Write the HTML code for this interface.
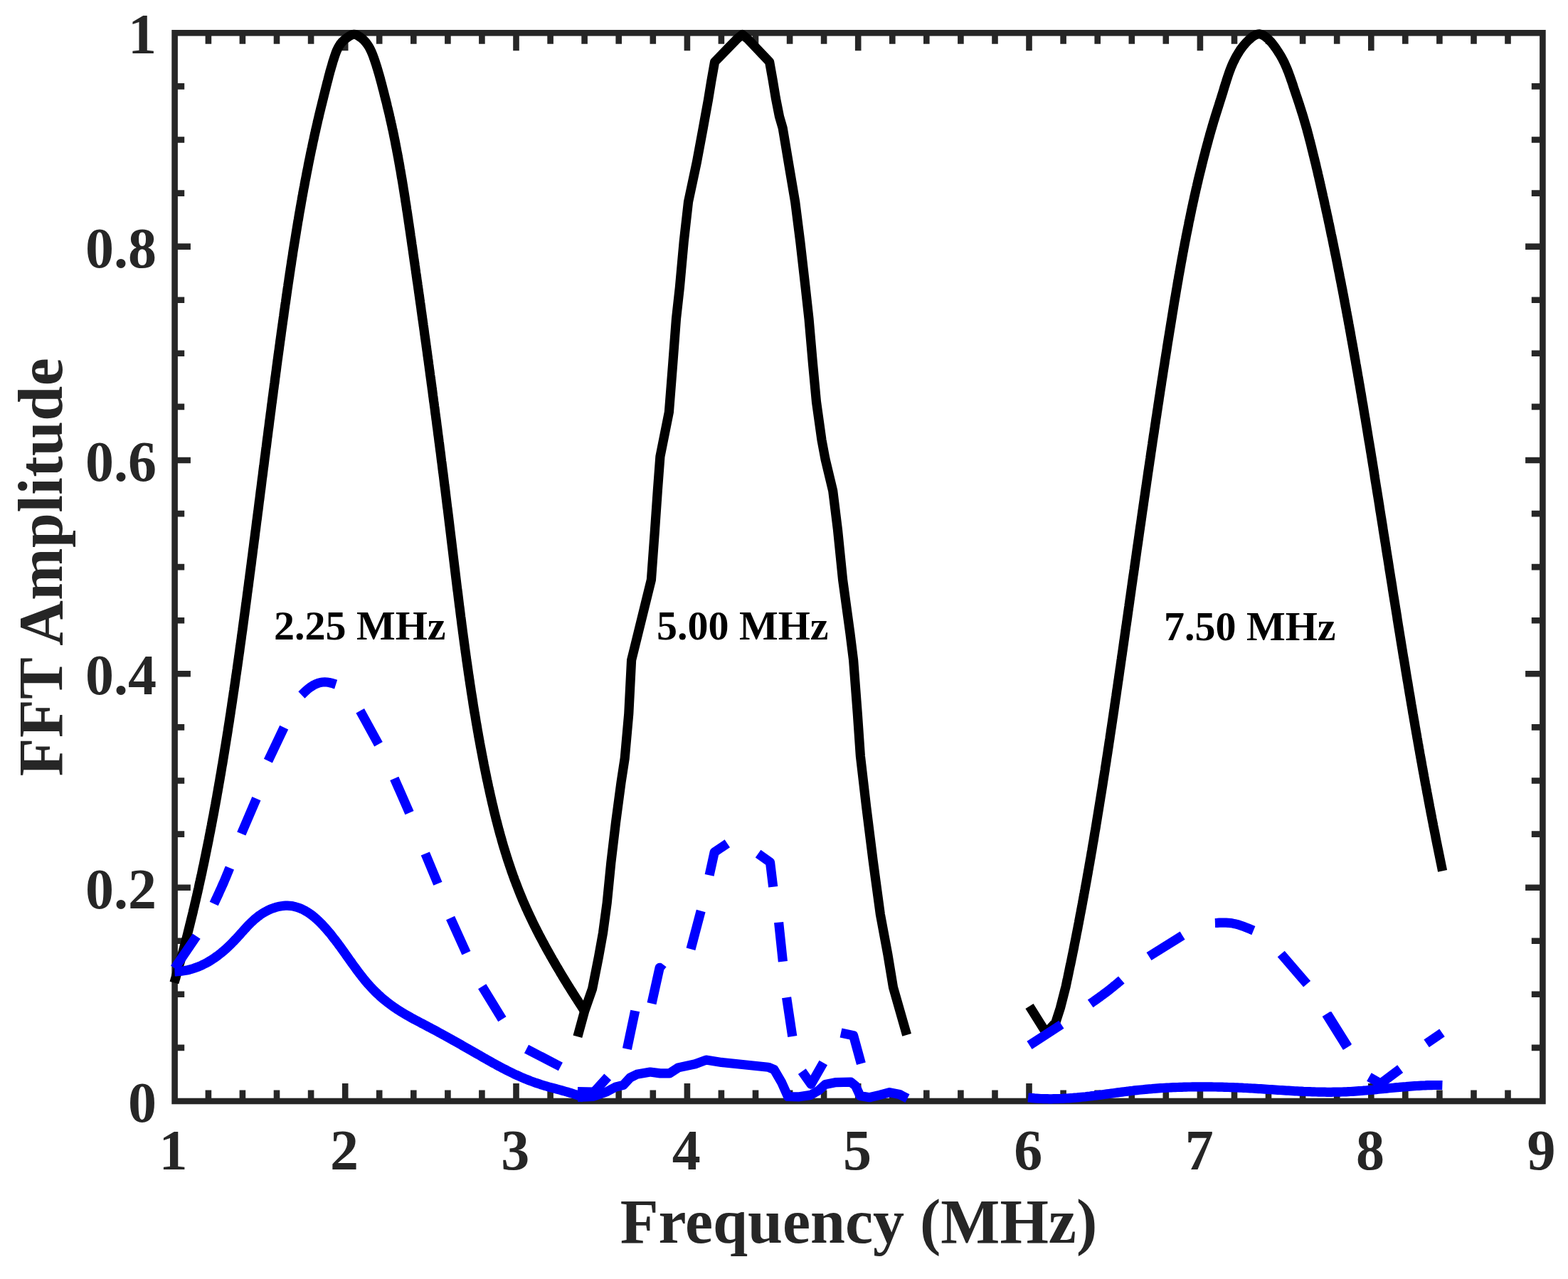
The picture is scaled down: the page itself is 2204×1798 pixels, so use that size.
<!DOCTYPE html>
<html lang="en">
<head>
<meta charset="utf-8">
<title>FFT Amplitude vs Frequency</title>
<style>
html,body{margin:0;padding:0;background:#fff;}
body{width:2204px;height:1798px;overflow:hidden;}
svg{display:block;}
text{font-family:"Liberation Serif","DejaVu Serif",serif;font-weight:bold;}
.tick{font-size:80px;fill:#262626;}
.lab{font-size:88px;fill:#262626;}
.ann{font-size:58px;fill:#000;}
.ax{stroke:#262626;fill:none;}
.blk{stroke:#000;fill:none;stroke-width:13.2;stroke-linejoin:round;stroke-linecap:butt;}
.blu{stroke:#0000ff;fill:none;stroke-width:13.2;stroke-linejoin:round;stroke-linecap:butt;}
</style>
</head>
<body>
<svg xmlns="http://www.w3.org/2000/svg" width="2204" height="1798" viewBox="0 0 2204 1798">
<rect x="0" y="0" width="2204" height="1798" fill="#fff"/>

<g class="ax" stroke-width="8.6">
<rect x="245.6" y="46.3" width="1922.8" height="1501.7"/>
</g>
<path class="ax" stroke-width="8.6" d="M292.9,1548.0 v-15.5 M292.9,46.3 v15.5 M340.9,1548.0 v-15.5 M340.9,46.3 v15.5 M389.0,1548.0 v-15.5 M389.0,46.3 v15.5 M437.1,1548.0 v-15.5 M437.1,46.3 v15.5 M485.2,1548.0 v-25.0 M485.2,46.3 v25.0 M533.2,1548.0 v-15.5 M533.2,46.3 v15.5 M581.3,1548.0 v-15.5 M581.3,46.3 v15.5 M629.4,1548.0 v-15.5 M629.4,46.3 v15.5 M677.4,1548.0 v-15.5 M677.4,46.3 v15.5 M725.5,1548.0 v-25.0 M725.5,46.3 v25.0 M773.6,1548.0 v-15.5 M773.6,46.3 v15.5 M821.6,1548.0 v-15.5 M821.6,46.3 v15.5 M869.7,1548.0 v-15.5 M869.7,46.3 v15.5 M917.8,1548.0 v-15.5 M917.8,46.3 v15.5 M965.9,1548.0 v-25.0 M965.9,46.3 v25.0 M1013.9,1548.0 v-15.5 M1013.9,46.3 v15.5 M1062.0,1548.0 v-15.5 M1062.0,46.3 v15.5 M1110.1,1548.0 v-15.5 M1110.1,46.3 v15.5 M1158.1,1548.0 v-15.5 M1158.1,46.3 v15.5 M1206.2,1548.0 v-25.0 M1206.2,46.3 v25.0 M1254.3,1548.0 v-15.5 M1254.3,46.3 v15.5 M1302.3,1548.0 v-15.5 M1302.3,46.3 v15.5 M1350.4,1548.0 v-15.5 M1350.4,46.3 v15.5 M1398.5,1548.0 v-15.5 M1398.5,46.3 v15.5 M1446.5,1548.0 v-25.0 M1446.5,46.3 v25.0 M1494.6,1548.0 v-15.5 M1494.6,46.3 v15.5 M1542.7,1548.0 v-15.5 M1542.7,46.3 v15.5 M1590.8,1548.0 v-15.5 M1590.8,46.3 v15.5 M1638.8,1548.0 v-15.5 M1638.8,46.3 v15.5 M1686.9,1548.0 v-25.0 M1686.9,46.3 v25.0 M1735.0,1548.0 v-15.5 M1735.0,46.3 v15.5 M1783.0,1548.0 v-15.5 M1783.0,46.3 v15.5 M1831.1,1548.0 v-15.5 M1831.1,46.3 v15.5 M1879.2,1548.0 v-15.5 M1879.2,46.3 v15.5 M1927.3,1548.0 v-25.0 M1927.3,46.3 v25.0 M1975.3,1548.0 v-15.5 M1975.3,46.3 v15.5 M2023.4,1548.0 v-15.5 M2023.4,46.3 v15.5 M2071.5,1548.0 v-15.5 M2071.5,46.3 v15.5 M2119.5,1548.0 v-15.5 M2119.5,46.3 v15.5 M245.6,1472.9 h13.6 M2168.4,1472.9 h-15.6 M245.6,1397.8 h13.6 M2168.4,1397.8 h-15.6 M245.6,1322.7 h13.6 M2168.4,1322.7 h-15.6 M245.6,1247.7 h22.3 M2168.4,1247.7 h-24.3 M245.6,1172.6 h13.6 M2168.4,1172.6 h-15.6 M245.6,1097.5 h13.6 M2168.4,1097.5 h-15.6 M245.6,1022.4 h13.6 M2168.4,1022.4 h-15.6 M245.6,947.3 h22.3 M2168.4,947.3 h-24.3 M245.6,872.2 h13.6 M2168.4,872.2 h-15.6 M245.6,797.1 h13.6 M2168.4,797.1 h-15.6 M245.6,722.1 h13.6 M2168.4,722.1 h-15.6 M245.6,647.0 h22.3 M2168.4,647.0 h-24.3 M245.6,571.9 h13.6 M2168.4,571.9 h-15.6 M245.6,496.8 h13.6 M2168.4,496.8 h-15.6 M245.6,421.7 h13.6 M2168.4,421.7 h-15.6 M245.6,346.6 h22.3 M2168.4,346.6 h-24.3 M245.6,271.6 h13.6 M2168.4,271.6 h-15.6 M245.6,196.5 h13.6 M2168.4,196.5 h-15.6 M245.6,121.4 h13.6 M2168.4,121.4 h-15.6"/>
<g id="curves">
<path class="blk" d="M244.9,1381.5 L245.6,1379.1 L246.3,1376.7 L247.0,1374.3 L247.6,1371.9 L248.3,1369.5 L249.0,1367.1 L249.7,1364.7 L250.4,1362.3 L251.1,1359.9 L251.7,1357.4 L252.4,1355.0 L253.1,1352.6 L253.8,1350.2 L254.4,1347.8 L255.1,1345.4 L255.7,1343.0 L256.4,1340.6 L257.1,1338.2 L257.7,1335.7 L258.4,1333.3 L259.0,1330.9 L259.6,1328.5 L260.3,1326.1 L260.9,1323.6 L261.5,1321.2 L262.2,1318.8 L262.8,1316.4 L263.4,1314.0 L264.0,1311.5 L264.6,1309.1 L265.2,1306.7 L265.8,1304.2 L266.4,1301.8 L267.0,1299.4 L267.6,1297.0 L268.2,1294.5 L268.8,1292.1 L269.4,1289.7 L270.0,1287.2 L270.6,1284.8 L271.2,1282.4 L271.7,1279.9 L272.3,1277.5 L272.9,1275.1 L273.5,1272.6 L274.0,1270.2 L274.6,1267.8 L275.2,1265.3 L275.7,1262.9 L276.3,1260.5 L276.9,1258.0 L277.4,1255.6 L278.0,1253.1 L278.5,1250.7 L279.1,1248.3 L279.6,1245.8 L280.1,1243.4 L280.7,1240.9 L281.2,1238.5 L281.8,1236.0 L282.3,1233.6 L282.8,1231.2 L283.4,1228.7 L283.9,1226.3 L284.4,1223.8 L284.9,1221.4 L285.4,1218.9 L286.0,1216.5 L286.5,1214.0 L287.0,1211.6 L287.5,1209.1 L288.0,1206.7 L288.5,1204.2 L289.0,1201.8 L289.5,1199.3 L290.0,1196.9 L290.5,1194.4 L291.0,1192.0 L291.5,1189.5 L292.0,1187.1 L292.5,1184.6 L293.0,1182.2 L293.5,1179.7 L293.9,1177.3 L294.4,1174.8 L294.9,1172.3 L295.4,1169.9 L295.9,1167.4 L296.3,1165.0 L296.8,1162.5 L297.3,1160.1 L297.7,1157.6 L298.2,1155.1 L298.7,1152.7 L299.1,1150.2 L299.6,1147.8 L300.1,1145.3 L300.5,1142.9 L301.0,1140.4 L301.4,1137.9 L301.9,1135.5 L302.3,1133.0 L302.8,1130.6 L303.2,1128.1 L303.7,1125.6 L304.1,1123.2 L304.6,1120.7 L305.0,1118.2 L305.4,1115.8 L305.9,1113.3 L306.3,1110.9 L306.7,1108.4 L307.2,1105.9 L307.6,1103.5 L308.0,1101.0 L308.5,1098.5 L308.9,1096.1 L309.3,1093.6 L309.7,1091.1 L310.2,1088.7 L310.6,1086.2 L311.0,1083.7 L311.4,1081.3 L311.8,1078.8 L312.2,1076.3 L312.7,1073.9 L313.1,1071.4 L313.5,1068.9 L313.9,1066.5 L314.3,1064.0 L314.7,1061.5 L315.1,1059.1 L315.5,1056.6 L315.9,1054.1 L316.3,1051.7 L316.7,1049.2 L317.1,1046.7 L317.5,1044.3 L317.9,1041.8 L318.3,1039.3 L318.7,1036.8 L319.1,1034.4 L319.5,1031.9 L319.9,1029.4 L320.3,1027.0 L320.6,1024.5 L321.0,1022.0 L321.4,1019.5 L321.8,1017.1 L322.2,1014.6 L322.6,1012.1 L322.9,1009.7 L323.3,1007.2 L323.7,1004.7 L324.1,1002.2 L324.4,999.8 L324.8,997.3 L325.2,994.8 L325.6,992.3 L325.9,989.9 L326.3,987.4 L326.7,984.9 L327.0,982.4 L327.4,980.0 L327.8,977.5 L328.1,975.0 L328.5,972.5 L328.9,970.1 L329.2,967.6 L329.6,965.1 L330.0,962.6 L330.3,960.2 L330.7,957.7 L331.0,955.2 L331.4,952.7 L331.7,950.3 L332.1,947.8 L332.5,945.3 L332.8,942.8 L333.2,940.4 L333.5,937.9 L333.9,935.4 L334.2,932.9 L334.6,930.5 L334.9,928.0 L335.3,925.5 L335.6,923.0 L336.0,920.5 L336.3,918.1 L336.7,915.6 L337.0,913.1 L337.3,910.6 L337.7,908.2 L338.0,905.7 L338.4,903.2 L338.7,900.7 L339.1,898.2 L339.4,895.8 L339.7,893.3 L340.1,890.8 L340.4,888.3 L340.8,885.9 L341.1,883.4 L341.4,880.9 L341.8,878.4 L342.1,875.9 L342.4,873.5 L342.8,871.0 L343.1,868.5 L343.4,866.0 L343.8,863.5 L344.1,861.1 L344.4,858.6 L344.8,856.1 L345.1,853.6 L345.4,851.1 L345.8,848.7 L346.1,846.2 L346.4,843.7 L346.8,841.2 L347.1,838.8 L347.4,836.3 L347.7,833.8 L348.1,831.3 L348.4,828.8 L348.7,826.4 L349.1,823.9 L349.4,821.4 L349.7,818.9 L350.0,816.4 L350.4,814.0 L350.7,811.5 L351.0,809.0 L351.3,806.5 L351.7,804.0 L352.0,801.5 L352.3,799.1 L352.6,796.6 L353.0,794.1 L353.3,791.6 L353.6,789.1 L353.9,786.7 L354.2,784.2 L354.6,781.7 L354.9,779.2 L355.2,776.7 L355.5,774.3 L355.8,771.8 L356.2,769.3 L356.5,766.8 L356.8,764.3 L357.1,761.9 L357.4,759.4 L357.8,756.9 L358.1,754.4 L358.4,751.9 L358.7,749.5 L359.0,747.0 L359.4,744.5 L359.7,742.0 L360.0,739.5 L360.3,737.0 L360.6,734.6 L360.9,732.1 L361.3,729.6 L361.6,727.1 L361.9,724.6 L362.2,722.2 L362.5,719.7 L362.9,717.2 L363.2,714.7 L363.5,712.2 L363.8,709.8 L364.1,707.3 L364.4,704.8 L364.8,702.3 L365.1,699.8 L365.4,697.3 L365.7,694.9 L366.0,692.4 L366.3,689.9 L366.7,687.4 L367.0,684.9 L367.3,682.5 L367.6,680.0 L367.9,677.5 L368.2,675.0 L368.5,672.5 L368.9,670.0 L369.2,667.6 L369.5,665.1 L369.8,662.6 L370.1,660.1 L370.4,657.6 L370.8,655.2 L371.1,652.7 L371.4,650.2 L371.7,647.7 L372.0,645.2 L372.3,642.8 L372.7,640.3 L373.0,637.8 L373.3,635.3 L373.6,632.8 L373.9,630.3 L374.3,627.9 L374.6,625.4 L374.9,622.9 L375.2,620.4 L375.5,617.9 L375.8,615.5 L376.2,613.0 L376.5,610.5 L376.8,608.0 L377.1,605.5 L377.4,603.1 L377.8,600.6 L378.1,598.1 L378.4,595.6 L378.7,593.1 L379.0,590.6 L379.4,588.2 L379.7,585.7 L380.0,583.2 L380.3,580.7 L380.7,578.2 L381.0,575.8 L381.3,573.3 L381.6,570.8 L381.9,568.3 L382.3,565.8 L382.6,563.4 L382.9,560.9 L383.2,558.4 L383.6,555.9 L383.9,553.4 L384.2,551.0 L384.5,548.5 L384.9,546.0 L385.2,543.5 L385.5,541.0 L385.9,538.6 L386.2,536.1 L386.5,533.6 L386.8,531.1 L387.2,528.6 L387.5,526.2 L387.8,523.7 L388.2,521.2 L388.5,518.7 L388.8,516.2 L389.1,513.8 L389.5,511.3 L389.8,508.8 L390.1,506.3 L390.5,503.8 L390.8,501.4 L391.1,498.9 L391.5,496.4 L391.8,493.9 L392.2,491.5 L392.5,489.0 L392.8,486.5 L393.2,484.0 L393.5,481.5 L393.8,479.1 L394.2,476.6 L394.5,474.1 L394.9,471.6 L395.2,469.1 L395.5,466.7 L395.9,464.2 L396.2,461.7 L396.6,459.2 L396.9,456.8 L397.3,454.3 L397.6,451.8 L398.0,449.3 L398.3,446.8 L398.7,444.4 L399.0,441.9 L399.3,439.4 L399.7,436.9 L400.0,434.5 L400.4,432.0 L400.7,429.5 L401.1,427.0 L401.5,424.6 L401.8,422.1 L402.2,419.6 L402.5,417.1 L402.9,414.7 L403.2,412.2 L403.6,409.7 L403.9,407.2 L404.3,404.7 L404.7,402.3 L405.0,399.8 L405.4,397.3 L405.8,394.8 L406.1,392.4 L406.5,389.9 L406.9,387.4 L407.2,384.9 L407.6,382.5 L408.0,380.0 L408.3,377.5 L408.7,375.1 L409.1,372.6 L409.5,370.1 L409.8,367.6 L410.2,365.2 L410.6,362.7 L411.0,360.2 L411.4,357.7 L411.7,355.3 L412.1,352.8 L412.5,350.3 L412.9,347.9 L413.3,345.4 L413.7,342.9 L414.1,340.4 L414.5,338.0 L414.9,335.5 L415.3,333.0 L415.7,330.6 L416.1,328.1 L416.5,325.6 L416.9,323.2 L417.3,320.7 L417.7,318.2 L418.1,315.8 L418.5,313.3 L418.9,310.8 L419.4,308.4 L419.8,305.9 L420.2,303.4 L420.6,301.0 L421.0,298.5 L421.5,296.0 L421.9,293.6 L422.3,291.1 L422.8,288.6 L423.2,286.2 L423.6,283.7 L424.1,281.2 L424.5,278.8 L424.9,276.3 L425.4,273.9 L425.8,271.4 L426.3,268.9 L426.7,266.5 L427.2,264.0 L427.7,261.6 L428.1,259.1 L428.6,256.6 L429.0,254.2 L429.5,251.7 L430.0,249.3 L430.5,246.8 L430.9,244.4 L431.4,241.9 L431.9,239.4 L432.4,237.0 L432.9,234.5 L433.3,232.1 L433.8,229.6 L434.3,227.2 L434.8,224.7 L435.3,222.3 L435.8,219.8 L436.3,217.4 L436.8,214.9 L437.3,212.5 L437.8,210.0 L438.4,207.6 L438.9,205.1 L439.4,202.7 L439.9,200.2 L440.4,197.8 L441.0,195.4 L441.5,192.9 L442.0,190.5 L442.6,188.0 L443.1,185.6 L443.7,183.1 L444.2,180.7 L444.8,178.3 L445.3,175.8 L445.9,173.4 L446.4,170.9 L447.0,168.5 L447.6,166.1 L448.2,163.6 L448.7,161.2 L449.3,158.7 L449.9,156.3 L450.5,153.9 L451.1,151.4 L451.7,149.0 L452.3,146.6 L452.9,144.1 L453.5,141.7 L454.1,139.3 L454.7,136.9 L455.3,134.4 L455.9,132.0 L456.5,129.6 L457.1,127.2 L457.7,124.8 L458.3,122.4 L458.9,120.0 L459.5,117.6 L460.1,115.2 L460.8,112.7 L461.4,110.3 L462.0,107.9 L462.6,105.5 L463.3,103.1 L463.9,100.7 L464.6,98.3 L465.3,95.9 L466.0,93.5 L466.7,91.1 L467.4,88.6 L468.1,86.2 L468.9,83.8 L469.7,81.3 L470.5,78.9 L471.3,76.5 L472.2,74.0 L473.1,71.7 L474.2,69.4 L475.3,67.1 L476.5,65.0 L477.8,62.9 L479.2,60.9 L480.8,59.0 L482.5,57.3 L484.4,55.6 L486.3,54.1 L488.4,52.6 L490.6,51.1 L492.9,49.8 L495.2,48.7 L497.6,48.3 L499.9,48.6 L502.3,49.6 L504.5,51.0 L506.7,52.5 L508.7,54.0 L510.6,55.7 L512.3,57.4 L514.0,59.2 L515.5,61.2 L516.9,63.2 L518.3,65.3 L519.5,67.4 L520.6,69.7 L521.7,71.9 L522.7,74.3 L523.7,76.6 L524.6,79.0 L525.4,81.4 L526.3,83.8 L527.1,86.2 L527.9,88.6 L528.7,91.0 L529.4,93.4 L530.2,95.8 L530.9,98.2 L531.6,100.6 L532.3,103.0 L533.0,105.4 L533.7,107.8 L534.3,110.2 L535.0,112.6 L535.6,115.0 L536.3,117.4 L536.9,119.8 L537.5,122.2 L538.1,124.6 L538.8,127.0 L539.4,129.5 L540.0,131.9 L540.6,134.3 L541.2,136.7 L541.8,139.1 L542.5,141.6 L543.1,144.0 L543.7,146.4 L544.2,148.9 L544.8,151.3 L545.4,153.7 L546.0,156.2 L546.6,158.6 L547.2,161.0 L547.7,163.5 L548.3,165.9 L548.8,168.4 L549.4,170.8 L549.9,173.3 L550.5,175.7 L551.0,178.1 L551.5,180.6 L552.1,183.0 L552.6,185.5 L553.1,187.9 L553.6,190.4 L554.1,192.8 L554.6,195.3 L555.1,197.7 L555.6,200.2 L556.0,202.6 L556.5,205.1 L557.0,207.6 L557.5,210.0 L557.9,212.5 L558.4,214.9 L558.9,217.4 L559.3,219.8 L559.8,222.3 L560.2,224.8 L560.7,227.2 L561.1,229.7 L561.6,232.1 L562.0,234.6 L562.4,237.1 L562.9,239.5 L563.3,242.0 L563.7,244.5 L564.1,246.9 L564.5,249.4 L565.0,251.9 L565.4,254.3 L565.8,256.8 L566.2,259.3 L566.6,261.7 L567.0,264.2 L567.4,266.7 L567.8,269.1 L568.2,271.6 L568.6,274.1 L569.0,276.6 L569.4,279.0 L569.7,281.5 L570.1,284.0 L570.5,286.4 L570.9,288.9 L571.3,291.4 L571.6,293.9 L572.0,296.3 L572.4,298.8 L572.8,301.3 L573.1,303.8 L573.5,306.2 L573.9,308.7 L574.2,311.2 L574.6,313.7 L575.0,316.1 L575.3,318.6 L575.7,321.1 L576.1,323.6 L576.4,326.0 L576.8,328.5 L577.1,331.0 L577.5,333.5 L577.9,335.9 L578.2,338.4 L578.6,340.9 L578.9,343.4 L579.3,345.8 L579.7,348.3 L580.0,350.8 L580.4,353.3 L580.7,355.7 L581.1,358.2 L581.4,360.7 L581.8,363.2 L582.1,365.6 L582.5,368.1 L582.9,370.6 L583.2,373.1 L583.6,375.5 L583.9,378.0 L584.3,380.5 L584.6,383.0 L585.0,385.5 L585.3,387.9 L585.7,390.4 L586.0,392.9 L586.4,395.4 L586.8,397.8 L587.1,400.3 L587.5,402.8 L587.8,405.3 L588.2,407.7 L588.5,410.2 L588.9,412.7 L589.2,415.2 L589.6,417.6 L589.9,420.1 L590.3,422.6 L590.6,425.1 L591.0,427.6 L591.3,430.0 L591.7,432.5 L592.0,435.0 L592.3,437.5 L592.7,439.9 L593.0,442.4 L593.4,444.9 L593.7,447.4 L594.1,449.9 L594.4,452.3 L594.8,454.8 L595.1,457.3 L595.5,459.8 L595.8,462.2 L596.2,464.7 L596.5,467.2 L596.8,469.7 L597.2,472.2 L597.5,474.6 L597.9,477.1 L598.2,479.6 L598.6,482.1 L598.9,484.5 L599.2,487.0 L599.6,489.5 L599.9,492.0 L600.3,494.5 L600.6,496.9 L600.9,499.4 L601.3,501.9 L601.6,504.4 L602.0,506.8 L602.3,509.3 L602.6,511.8 L603.0,514.3 L603.3,516.8 L603.6,519.2 L604.0,521.7 L604.3,524.2 L604.6,526.7 L605.0,529.2 L605.3,531.6 L605.7,534.1 L606.0,536.6 L606.3,539.1 L606.7,541.6 L607.0,544.0 L607.3,546.5 L607.7,549.0 L608.0,551.5 L608.3,553.9 L608.6,556.4 L609.0,558.9 L609.3,561.4 L609.6,563.9 L610.0,566.3 L610.3,568.8 L610.6,571.3 L611.0,573.8 L611.3,576.3 L611.6,578.7 L611.9,581.2 L612.3,583.7 L612.6,586.2 L612.9,588.7 L613.3,591.1 L613.6,593.6 L613.9,596.1 L614.2,598.6 L614.6,601.1 L614.9,603.5 L615.2,606.0 L615.5,608.5 L615.8,611.0 L616.2,613.5 L616.5,615.9 L616.8,618.4 L617.1,620.9 L617.5,623.4 L617.8,625.9 L618.1,628.4 L618.4,630.8 L618.7,633.3 L619.1,635.8 L619.4,638.3 L619.7,640.8 L620.0,643.2 L620.3,645.7 L620.6,648.2 L621.0,650.7 L621.3,653.2 L621.6,655.6 L621.9,658.1 L622.2,660.6 L622.5,663.1 L622.9,665.6 L623.2,668.1 L623.5,670.5 L623.8,673.0 L624.1,675.5 L624.4,678.0 L624.7,680.5 L625.0,682.9 L625.4,685.4 L625.7,687.9 L626.0,690.4 L626.3,692.9 L626.6,695.4 L626.9,697.8 L627.2,700.3 L627.5,702.8 L627.8,705.3 L628.1,707.8 L628.4,710.3 L628.7,712.7 L629.1,715.2 L629.4,717.7 L629.7,720.2 L630.0,722.7 L630.3,725.1 L630.6,727.6 L630.9,730.1 L631.2,732.6 L631.5,735.1 L631.8,737.6 L632.1,740.0 L632.4,742.5 L632.7,745.0 L633.0,747.5 L633.3,750.0 L633.6,752.5 L633.9,754.9 L634.2,757.4 L634.5,759.9 L634.8,762.4 L635.1,764.9 L635.4,767.4 L635.7,769.8 L636.0,772.3 L636.3,774.8 L636.6,777.3 L636.9,779.8 L637.2,782.3 L637.5,784.7 L637.8,787.2 L638.1,789.7 L638.4,792.2 L638.7,794.7 L639.0,797.2 L639.3,799.6 L639.6,802.1 L639.9,804.6 L640.2,807.1 L640.5,809.6 L640.8,812.1 L641.1,814.5 L641.4,817.0 L641.7,819.5 L642.0,822.0 L642.3,824.5 L642.6,827.0 L642.9,829.4 L643.3,831.9 L643.6,834.4 L643.9,836.9 L644.2,839.4 L644.5,841.9 L644.8,844.3 L645.1,846.8 L645.4,849.3 L645.7,851.8 L646.1,854.3 L646.4,856.7 L646.7,859.2 L647.0,861.7 L647.3,864.2 L647.6,866.7 L648.0,869.2 L648.3,871.6 L648.6,874.1 L648.9,876.6 L649.2,879.1 L649.6,881.6 L649.9,884.0 L650.2,886.5 L650.5,889.0 L650.9,891.5 L651.2,894.0 L651.5,896.4 L651.9,898.9 L652.2,901.4 L652.5,903.9 L652.9,906.4 L653.2,908.8 L653.5,911.3 L653.9,913.8 L654.2,916.3 L654.6,918.7 L654.9,921.2 L655.3,923.7 L655.6,926.2 L655.9,928.7 L656.3,931.1 L656.7,933.6 L657.0,936.1 L657.4,938.6 L657.7,941.0 L658.1,943.5 L658.4,946.0 L658.8,948.5 L659.2,950.9 L659.5,953.4 L659.9,955.9 L660.3,958.4 L660.6,960.8 L661.0,963.3 L661.4,965.8 L661.8,968.3 L662.1,970.7 L662.5,973.2 L662.9,975.7 L663.3,978.1 L663.7,980.6 L664.1,983.1 L664.5,985.6 L664.8,988.0 L665.2,990.5 L665.6,993.0 L666.0,995.4 L666.4,997.9 L666.8,1000.4 L667.2,1002.8 L667.7,1005.3 L668.1,1007.8 L668.5,1010.2 L668.9,1012.7 L669.3,1015.2 L669.7,1017.6 L670.2,1020.1 L670.6,1022.6 L671.0,1025.0 L671.4,1027.5 L671.9,1030.0 L672.3,1032.4 L672.7,1034.9 L673.2,1037.4 L673.6,1039.8 L674.1,1042.3 L674.5,1044.7 L675.0,1047.2 L675.4,1049.7 L675.9,1052.1 L676.4,1054.6 L676.8,1057.0 L677.3,1059.5 L677.8,1062.0 L678.2,1064.4 L678.7,1066.9 L679.2,1069.3 L679.7,1071.8 L680.1,1074.2 L680.6,1076.7 L681.1,1079.1 L681.6,1081.6 L682.1,1084.0 L682.6,1086.5 L683.1,1088.9 L683.6,1091.4 L684.1,1093.8 L684.6,1096.3 L685.2,1098.7 L685.7,1101.2 L686.2,1103.6 L686.7,1106.1 L687.3,1108.5 L687.8,1111.0 L688.3,1113.4 L688.9,1115.9 L689.4,1118.3 L690.0,1120.7 L690.5,1123.2 L691.1,1125.6 L691.6,1128.0 L692.2,1130.5 L692.8,1132.9 L693.4,1135.4 L693.9,1137.8 L694.5,1140.2 L695.1,1142.7 L695.7,1145.1 L696.3,1147.5 L696.9,1149.9 L697.5,1152.4 L698.2,1154.8 L698.8,1157.2 L699.4,1159.6 L700.0,1162.0 L700.7,1164.5 L701.3,1166.9 L702.0,1169.3 L702.6,1171.7 L703.3,1174.1 L704.0,1176.5 L704.7,1178.9 L705.3,1181.3 L706.0,1183.8 L706.7,1186.2 L707.4,1188.6 L708.1,1191.0 L708.9,1193.3 L709.6,1195.7 L710.3,1198.1 L711.1,1200.5 L711.8,1202.9 L712.6,1205.3 L713.3,1207.7 L714.1,1210.1 L714.9,1212.4 L715.7,1214.8 L716.5,1217.2 L717.3,1219.6 L718.1,1221.9 L718.9,1224.3 L719.7,1226.6 L720.6,1229.0 L721.4,1231.4 L722.3,1233.7 L723.1,1236.1 L724.0,1238.4 L724.9,1240.7 L725.8,1243.1 L726.7,1245.4 L727.6,1247.8 L728.5,1250.1 L729.4,1252.4 L730.3,1254.7 L731.3,1257.1 L732.2,1259.4 L733.2,1261.7 L734.1,1264.0 L735.1,1266.3 L736.1,1268.6 L737.1,1270.9 L738.1,1273.2 L739.1,1275.5 L740.1,1277.7 L741.2,1280.0 L742.2,1282.3 L743.3,1284.6 L744.3,1286.8 L745.4,1289.1 L746.5,1291.4 L747.5,1293.6 L748.6,1295.9 L749.7,1298.1 L750.8,1300.4 L751.9,1302.6 L753.1,1304.8 L754.2,1307.1 L755.3,1309.3 L756.5,1311.5 L757.6,1313.8 L758.8,1316.0 L759.9,1318.2 L761.1,1320.4 L762.3,1322.6 L763.5,1324.8 L764.6,1327.0 L765.8,1329.2 L767.0,1331.4 L768.2,1333.6 L769.5,1335.8 L770.7,1338.0 L771.9,1340.2 L773.1,1342.3 L774.3,1344.5 L775.6,1346.7 L776.8,1348.9 L778.1,1351.0 L779.3,1353.2 L780.6,1355.4 L781.8,1357.5 L783.1,1359.7 L784.4,1361.8 L785.7,1364.0 L786.9,1366.1 L788.2,1368.3 L789.5,1370.4 L790.8,1372.6 L792.1,1374.7 L793.4,1376.9 L794.7,1379.0 L796.0,1381.1 L797.3,1383.2 L798.6,1385.4 L800.0,1387.5 L801.3,1389.6 L802.6,1391.7 L804.0,1393.9 L805.3,1396.0 L806.6,1398.1 L808.0,1400.2 L809.3,1402.3 L810.7,1404.4 L812.0,1406.5 L813.4,1408.6 L814.7,1410.7 L816.1,1412.8 L817.4,1414.9 L818.8,1417.0 L820.1,1419.2 L821.5,1421.3"/>
<path class="blk" d="M811.9,1457.2 L821.8,1421.0 L832.6,1390.0 L841.5,1345.0 L847.5,1311.7 L853.2,1269.3 L858.8,1212.9 L865.5,1156.4 L873.0,1100.0 L878.2,1066.0 L883.8,1003.2 L887.6,928.0 L915.4,815.2 L920.5,745.0 L924.3,690.0 L927.9,641.8 L940.4,579.3 L945.7,511.4 L950.5,448.0 L955.4,403.7 L961.2,339.8 L967.5,283.9 L979.4,227.9 L988.3,180.0 L991.2,163.9 L995.5,140.4 L999.7,114.6 L1004.6,87.0 L1036.3,54.3 L1043.4,48.6 L1050.5,54.3 L1081.6,87.0 L1086.1,112.2 L1090.4,138.1 L1095.5,163.9 L1100.2,180.0 L1108.2,227.9 L1117.7,283.9 L1124.8,339.8 L1132.1,403.7 L1137.0,448.0 L1142.5,511.4 L1147.5,565.0 L1155.0,618.6 L1160.0,645.4 L1170.7,690.0 L1177.5,745.0 L1184.6,815.2 L1194.9,890.4 L1199.6,928.0 L1205.3,1003.2 L1209.4,1063.0 L1217.8,1135.2 L1227.2,1210.4 L1237.4,1285.6 L1247.9,1342.0 L1255.5,1388.0 L1274.6,1454.9"/>
<path class="blk" d="M1447.0,1414.6 L1470.5,1452.0 L1483.8,1437.5 L1490.4,1417.0 L1497.3,1390.0 L1498.0,1387.5 L1498.5,1385.0 L1499.0,1382.6 L1499.5,1380.1 L1500.0,1377.7 L1500.6,1375.3 L1501.1,1372.8 L1501.6,1370.4 L1502.1,1367.9 L1502.6,1365.5 L1503.1,1363.0 L1503.6,1360.6 L1504.1,1358.1 L1504.7,1355.7 L1505.2,1353.2 L1505.7,1350.8 L1506.2,1348.3 L1506.7,1345.9 L1507.2,1343.4 L1507.7,1341.0 L1508.2,1338.5 L1508.7,1336.1 L1509.2,1333.6 L1509.7,1331.1 L1510.1,1328.7 L1510.6,1326.2 L1511.1,1323.8 L1511.6,1321.3 L1512.1,1318.9 L1512.6,1316.4 L1513.0,1314.0 L1513.5,1311.5 L1514.0,1309.1 L1514.5,1306.6 L1515.0,1304.1 L1515.4,1301.7 L1515.9,1299.2 L1516.4,1296.8 L1516.8,1294.3 L1517.3,1291.9 L1517.8,1289.4 L1518.2,1286.9 L1518.7,1284.5 L1519.2,1282.0 L1519.6,1279.6 L1520.1,1277.1 L1520.6,1274.7 L1521.0,1272.2 L1521.5,1269.7 L1521.9,1267.3 L1522.4,1264.8 L1522.8,1262.4 L1523.3,1259.9 L1523.7,1257.4 L1524.2,1255.0 L1524.6,1252.5 L1525.1,1250.1 L1525.5,1247.6 L1526.0,1245.1 L1526.4,1242.7 L1526.9,1240.2 L1527.3,1237.7 L1527.8,1235.3 L1528.2,1232.8 L1528.6,1230.4 L1529.1,1227.9 L1529.5,1225.4 L1529.9,1223.0 L1530.4,1220.5 L1530.8,1218.0 L1531.2,1215.6 L1531.7,1213.1 L1532.1,1210.6 L1532.5,1208.2 L1533.0,1205.7 L1533.4,1203.2 L1533.8,1200.8 L1534.2,1198.3 L1534.7,1195.9 L1535.1,1193.4 L1535.5,1190.9 L1535.9,1188.5 L1536.3,1186.0 L1536.8,1183.5 L1537.2,1181.1 L1537.6,1178.6 L1538.0,1176.1 L1538.4,1173.7 L1538.8,1171.2 L1539.2,1168.7 L1539.7,1166.2 L1540.1,1163.8 L1540.5,1161.3 L1540.9,1158.8 L1541.3,1156.4 L1541.7,1153.9 L1542.1,1151.4 L1542.5,1149.0 L1542.9,1146.5 L1543.3,1144.0 L1543.7,1141.6 L1544.1,1139.1 L1544.5,1136.6 L1544.9,1134.2 L1545.3,1131.7 L1545.7,1129.2 L1546.1,1126.7 L1546.5,1124.3 L1546.9,1121.8 L1547.3,1119.3 L1547.7,1116.9 L1548.1,1114.4 L1548.5,1111.9 L1548.9,1109.5 L1549.3,1107.0 L1549.7,1104.5 L1550.1,1102.0 L1550.4,1099.6 L1550.8,1097.1 L1551.2,1094.6 L1551.6,1092.2 L1552.0,1089.7 L1552.4,1087.2 L1552.8,1084.7 L1553.2,1082.3 L1553.5,1079.8 L1553.9,1077.3 L1554.3,1074.9 L1554.7,1072.4 L1555.1,1069.9 L1555.4,1067.4 L1555.8,1065.0 L1556.2,1062.5 L1556.6,1060.0 L1557.0,1057.5 L1557.3,1055.1 L1557.7,1052.6 L1558.1,1050.1 L1558.5,1047.7 L1558.8,1045.2 L1559.2,1042.7 L1559.6,1040.2 L1560.0,1037.8 L1560.3,1035.3 L1560.7,1032.8 L1561.1,1030.3 L1561.4,1027.9 L1561.8,1025.4 L1562.2,1022.9 L1562.6,1020.4 L1562.9,1018.0 L1563.3,1015.5 L1563.7,1013.0 L1564.0,1010.5 L1564.4,1008.1 L1564.8,1005.6 L1565.1,1003.1 L1565.5,1000.6 L1565.9,998.2 L1566.2,995.7 L1566.6,993.2 L1566.9,990.7 L1567.3,988.3 L1567.7,985.8 L1568.0,983.3 L1568.4,980.8 L1568.8,978.4 L1569.1,975.9 L1569.5,973.4 L1569.8,970.9 L1570.2,968.5 L1570.6,966.0 L1570.9,963.5 L1571.3,961.0 L1571.6,958.6 L1572.0,956.1 L1572.4,953.6 L1572.7,951.1 L1573.1,948.7 L1573.4,946.2 L1573.8,943.7 L1574.1,941.2 L1574.5,938.8 L1574.9,936.3 L1575.2,933.8 L1575.6,931.3 L1575.9,928.8 L1576.3,926.4 L1576.6,923.9 L1577.0,921.4 L1577.4,918.9 L1577.7,916.5 L1578.1,914.0 L1578.4,911.5 L1578.8,909.0 L1579.1,906.6 L1579.5,904.1 L1579.8,901.6 L1580.2,899.1 L1580.5,896.7 L1580.9,894.2 L1581.2,891.7 L1581.6,889.2 L1581.9,886.7 L1582.3,884.3 L1582.6,881.8 L1583.0,879.3 L1583.4,876.8 L1583.7,874.4 L1584.1,871.9 L1584.4,869.4 L1584.8,866.9 L1585.1,864.5 L1585.5,862.0 L1585.8,859.5 L1586.2,857.0 L1586.5,854.5 L1586.9,852.1 L1587.2,849.6 L1587.6,847.1 L1587.9,844.6 L1588.3,842.2 L1588.6,839.7 L1589.0,837.2 L1589.3,834.7 L1589.7,832.3 L1590.0,829.8 L1590.4,827.3 L1590.7,824.8 L1591.1,822.3 L1591.4,819.9 L1591.8,817.4 L1592.1,814.9 L1592.5,812.4 L1592.8,810.0 L1593.2,807.5 L1593.6,805.0 L1593.9,802.5 L1594.3,800.1 L1594.6,797.6 L1595.0,795.1 L1595.3,792.6 L1595.7,790.1 L1596.0,787.7 L1596.4,785.2 L1596.7,782.7 L1597.1,780.2 L1597.4,777.8 L1597.8,775.3 L1598.1,772.8 L1598.5,770.3 L1598.8,767.9 L1599.2,765.4 L1599.6,762.9 L1599.9,760.4 L1600.3,758.0 L1600.6,755.5 L1601.0,753.0 L1601.3,750.5 L1601.7,748.0 L1602.0,745.6 L1602.4,743.1 L1602.7,740.6 L1603.1,738.1 L1603.5,735.7 L1603.8,733.2 L1604.2,730.7 L1604.5,728.2 L1604.9,725.8 L1605.2,723.3 L1605.6,720.8 L1605.9,718.3 L1606.3,715.9 L1606.7,713.4 L1607.0,710.9 L1607.4,708.4 L1607.7,706.0 L1608.1,703.5 L1608.4,701.0 L1608.8,698.5 L1609.2,696.0 L1609.5,693.6 L1609.9,691.1 L1610.2,688.6 L1610.6,686.1 L1611.0,683.7 L1611.3,681.2 L1611.7,678.7 L1612.0,676.2 L1612.4,673.8 L1612.8,671.3 L1613.1,668.8 L1613.5,666.3 L1613.8,663.9 L1614.2,661.4 L1614.6,658.9 L1614.9,656.4 L1615.3,654.0 L1615.7,651.5 L1616.0,649.0 L1616.4,646.5 L1616.8,644.1 L1617.1,641.6 L1617.5,639.1 L1617.8,636.6 L1618.2,634.2 L1618.6,631.7 L1618.9,629.2 L1619.3,626.7 L1619.7,624.3 L1620.0,621.8 L1620.4,619.3 L1620.8,616.8 L1621.1,614.4 L1621.5,611.9 L1621.9,609.4 L1622.3,606.9 L1622.6,604.5 L1623.0,602.0 L1623.4,599.5 L1623.7,597.0 L1624.1,594.6 L1624.5,592.1 L1624.8,589.6 L1625.2,587.2 L1625.6,584.7 L1626.0,582.2 L1626.3,579.7 L1626.7,577.3 L1627.1,574.8 L1627.5,572.3 L1627.8,569.8 L1628.2,567.4 L1628.6,564.9 L1629.0,562.4 L1629.3,559.9 L1629.7,557.5 L1630.1,555.0 L1630.5,552.5 L1630.8,550.1 L1631.2,547.6 L1631.6,545.1 L1632.0,542.6 L1632.4,540.2 L1632.7,537.7 L1633.1,535.2 L1633.5,532.7 L1633.9,530.3 L1634.3,527.8 L1634.7,525.3 L1635.0,522.9 L1635.4,520.4 L1635.8,517.9 L1636.2,515.4 L1636.6,513.0 L1637.0,510.5 L1637.3,508.0 L1637.7,505.5 L1638.1,503.1 L1638.5,500.6 L1638.9,498.1 L1639.3,495.7 L1639.7,493.2 L1640.1,490.7 L1640.4,488.2 L1640.8,485.8 L1641.2,483.3 L1641.6,480.8 L1642.0,478.4 L1642.4,475.9 L1642.8,473.4 L1643.2,471.0 L1643.6,468.5 L1644.0,466.0 L1644.4,463.5 L1644.8,461.1 L1645.2,458.6 L1645.6,456.1 L1646.0,453.7 L1646.4,451.2 L1646.8,448.7 L1647.2,446.3 L1647.6,443.8 L1648.0,441.3 L1648.4,438.8 L1648.8,436.4 L1649.2,433.9 L1649.6,431.4 L1650.0,429.0 L1650.4,426.5 L1650.8,424.0 L1651.2,421.6 L1651.6,419.1 L1652.1,416.6 L1652.5,414.2 L1652.9,411.7 L1653.3,409.2 L1653.7,406.8 L1654.2,404.3 L1654.6,401.8 L1655.0,399.4 L1655.4,396.9 L1655.9,394.4 L1656.3,392.0 L1656.7,389.5 L1657.1,387.0 L1657.6,384.6 L1658.0,382.1 L1658.5,379.7 L1658.9,377.2 L1659.3,374.7 L1659.8,372.3 L1660.2,369.8 L1660.7,367.3 L1661.1,364.9 L1661.6,362.4 L1662.0,360.0 L1662.5,357.5 L1662.9,355.0 L1663.4,352.6 L1663.8,350.1 L1664.3,347.7 L1664.8,345.2 L1665.2,342.8 L1665.7,340.3 L1666.2,337.8 L1666.7,335.4 L1667.1,332.9 L1667.6,330.5 L1668.1,328.0 L1668.6,325.6 L1669.1,323.1 L1669.6,320.7 L1670.1,318.2 L1670.6,315.8 L1671.0,313.3 L1671.5,310.8 L1672.1,308.4 L1672.6,305.9 L1673.1,303.5 L1673.6,301.0 L1674.1,298.6 L1674.6,296.2 L1675.1,293.7 L1675.6,291.3 L1676.2,288.8 L1676.7,286.4 L1677.2,283.9 L1677.8,281.5 L1678.3,279.0 L1678.8,276.6 L1679.4,274.2 L1679.9,271.7 L1680.5,269.3 L1681.0,266.8 L1681.6,264.4 L1682.2,262.0 L1682.7,259.5 L1683.3,257.1 L1683.9,254.6 L1684.4,252.2 L1685.0,249.8 L1685.6,247.3 L1686.2,244.9 L1686.8,242.5 L1687.4,240.1 L1688.0,237.6 L1688.6,235.2 L1689.2,232.8 L1689.8,230.3 L1690.4,227.9 L1691.0,225.5 L1691.6,223.1 L1692.2,220.6 L1692.9,218.2 L1693.5,215.8 L1694.1,213.4 L1694.7,210.9 L1695.4,208.5 L1696.0,206.1 L1696.7,203.7 L1697.3,201.3 L1698.0,198.9 L1698.6,196.4 L1699.3,194.0 L1700.0,191.6 L1700.6,189.2 L1701.3,186.8 L1702.0,184.4 L1702.7,182.0 L1703.4,179.6 L1704.1,177.2 L1704.8,174.8 L1705.5,172.4 L1706.2,170.0 L1707.0,167.6 L1707.7,165.2 L1708.4,162.8 L1709.2,160.4 L1709.9,158.1 L1710.7,155.7 L1711.4,153.3 L1712.2,150.9 L1713.0,148.5 L1713.7,146.1 L1714.5,143.7 L1715.2,141.4 L1716.0,139.0 L1716.7,136.6 L1717.5,134.2 L1718.2,131.8 L1719.0,129.4 L1719.7,127.0 L1720.4,124.6 L1721.1,122.2 L1721.9,119.8 L1722.6,117.4 L1723.4,115.1 L1724.1,112.7 L1724.9,110.3 L1725.7,107.9 L1726.5,105.5 L1727.3,103.2 L1728.1,100.8 L1729.0,98.5 L1729.9,96.2 L1730.8,93.8 L1731.8,91.5 L1732.8,89.2 L1733.9,86.9 L1735.0,84.7 L1736.1,82.4 L1737.3,80.2 L1738.5,78.0 L1739.8,75.8 L1741.1,73.7 L1742.4,71.6 L1743.8,69.5 L1745.3,67.5 L1746.7,65.6 L1748.3,63.6 L1749.9,61.8 L1751.5,59.9 L1753.3,58.1 L1755.1,56.3 L1757.1,54.6 L1759.1,52.8 L1761.2,51.2 L1763.5,49.8 L1765.7,48.7 L1768.0,48.0 L1770.4,47.9 L1772.7,48.4 L1775.0,49.3 L1777.2,50.6 L1779.4,52.2 L1781.4,53.9 L1783.4,55.7 L1785.2,57.6 L1786.9,59.4 L1788.5,61.4 L1790.0,63.3 L1791.4,65.3 L1792.9,67.3 L1794.3,69.3 L1795.7,71.4 L1797.0,73.5 L1798.4,75.6 L1799.7,77.7 L1800.9,79.9 L1802.2,82.1 L1803.3,84.3 L1804.5,86.6 L1805.6,88.8 L1806.6,91.1 L1807.6,93.4 L1808.6,95.7 L1809.5,98.0 L1810.5,100.3 L1811.4,102.7 L1812.2,105.0 L1813.1,107.4 L1813.9,109.7 L1814.7,112.1 L1815.6,114.5 L1816.4,116.8 L1817.2,119.2 L1817.9,121.6 L1818.7,124.0 L1819.5,126.4 L1820.3,128.7 L1821.1,131.1 L1821.9,133.5 L1822.7,135.9 L1823.5,138.2 L1824.3,140.6 L1825.1,143.0 L1825.9,145.4 L1826.6,147.7 L1827.4,150.1 L1828.2,152.5 L1828.9,154.9 L1829.7,157.3 L1830.4,159.6 L1831.2,162.0 L1831.9,164.4 L1832.6,166.8 L1833.3,169.2 L1834.0,171.6 L1834.7,174.0 L1835.4,176.4 L1836.1,178.8 L1836.8,181.2 L1837.4,183.6 L1838.1,186.1 L1838.7,188.5 L1839.4,190.9 L1840.0,193.3 L1840.6,195.7 L1841.3,198.2 L1841.9,200.6 L1842.5,203.0 L1843.1,205.4 L1843.7,207.9 L1844.3,210.3 L1844.9,212.7 L1845.5,215.2 L1846.1,217.6 L1846.7,220.0 L1847.3,222.4 L1847.9,224.9 L1848.5,227.3 L1849.1,229.7 L1849.7,232.2 L1850.2,234.6 L1850.8,237.0 L1851.4,239.5 L1852.0,241.9 L1852.5,244.4 L1853.1,246.8 L1853.7,249.2 L1854.2,251.7 L1854.8,254.1 L1855.3,256.5 L1855.9,259.0 L1856.4,261.4 L1857.0,263.9 L1857.5,266.3 L1858.1,268.7 L1858.6,271.2 L1859.2,273.6 L1859.7,276.1 L1860.3,278.5 L1860.8,280.9 L1861.4,283.4 L1861.9,285.8 L1862.4,288.3 L1863.0,290.7 L1863.5,293.2 L1864.0,295.6 L1864.6,298.1 L1865.1,300.5 L1865.6,302.9 L1866.2,305.4 L1866.7,307.8 L1867.2,310.3 L1867.7,312.7 L1868.3,315.2 L1868.8,317.6 L1869.3,320.1 L1869.8,322.5 L1870.3,325.0 L1870.8,327.4 L1871.3,329.9 L1871.9,332.3 L1872.4,334.8 L1872.9,337.2 L1873.4,339.7 L1873.9,342.1 L1874.4,344.6 L1874.9,347.0 L1875.4,349.5 L1875.9,351.9 L1876.4,354.4 L1876.9,356.8 L1877.4,359.3 L1877.9,361.7 L1878.4,364.2 L1878.9,366.6 L1879.4,369.1 L1879.9,371.5 L1880.3,374.0 L1880.8,376.4 L1881.3,378.9 L1881.8,381.3 L1882.3,383.8 L1882.8,386.3 L1883.2,388.7 L1883.7,391.2 L1884.2,393.6 L1884.7,396.1 L1885.2,398.5 L1885.6,401.0 L1886.1,403.4 L1886.6,405.9 L1887.1,408.4 L1887.5,410.8 L1888.0,413.3 L1888.5,415.7 L1888.9,418.2 L1889.4,420.6 L1889.9,423.1 L1890.3,425.6 L1890.8,428.0 L1891.2,430.5 L1891.7,432.9 L1892.2,435.4 L1892.6,437.9 L1893.1,440.3 L1893.5,442.8 L1894.0,445.2 L1894.5,447.7 L1894.9,450.2 L1895.4,452.6 L1895.8,455.1 L1896.3,457.5 L1896.7,460.0 L1897.2,462.5 L1897.6,464.9 L1898.1,467.4 L1898.5,469.8 L1898.9,472.3 L1899.4,474.8 L1899.8,477.2 L1900.3,479.7 L1900.7,482.2 L1901.2,484.6 L1901.6,487.1 L1902.0,489.5 L1902.5,492.0 L1902.9,494.5 L1903.3,496.9 L1903.8,499.4 L1904.2,501.9 L1904.6,504.3 L1905.1,506.8 L1905.5,509.3 L1905.9,511.7 L1906.4,514.2 L1906.8,516.6 L1907.2,519.1 L1907.7,521.6 L1908.1,524.0 L1908.5,526.5 L1908.9,529.0 L1909.4,531.4 L1909.8,533.9 L1910.2,536.4 L1910.6,538.8 L1911.1,541.3 L1911.5,543.8 L1911.9,546.2 L1912.3,548.7 L1912.7,551.2 L1913.2,553.6 L1913.6,556.1 L1914.0,558.6 L1914.4,561.0 L1914.8,563.5 L1915.2,566.0 L1915.7,568.4 L1916.1,570.9 L1916.5,573.4 L1916.9,575.8 L1917.3,578.3 L1917.7,580.8 L1918.1,583.2 L1918.5,585.7 L1919.0,588.2 L1919.4,590.6 L1919.8,593.1 L1920.2,595.6 L1920.6,598.0 L1921.0,600.5 L1921.4,603.0 L1921.8,605.4 L1922.2,607.9 L1922.6,610.4 L1923.0,612.9 L1923.4,615.3 L1923.8,617.8 L1924.2,620.3 L1924.7,622.7 L1925.1,625.2 L1925.5,627.7 L1925.9,630.1 L1926.3,632.6 L1926.7,635.1 L1927.1,637.5 L1927.5,640.0 L1927.9,642.5 L1928.3,644.9 L1928.7,647.4 L1929.1,649.9 L1929.5,652.4 L1929.9,654.8 L1930.3,657.3 L1930.7,659.8 L1931.1,662.2 L1931.5,664.7 L1931.9,667.2 L1932.2,669.6 L1932.6,672.1 L1933.0,674.6 L1933.4,677.1 L1933.8,679.5 L1934.2,682.0 L1934.6,684.5 L1935.0,686.9 L1935.4,689.4 L1935.8,691.9 L1936.2,694.4 L1936.6,696.8 L1937.0,699.3 L1937.4,701.8 L1937.8,704.2 L1938.2,706.7 L1938.6,709.2 L1939.0,711.6 L1939.3,714.1 L1939.7,716.6 L1940.1,719.1 L1940.5,721.5 L1940.9,724.0 L1941.3,726.5 L1941.7,728.9 L1942.1,731.4 L1942.5,733.9 L1942.9,736.4 L1943.3,738.8 L1943.7,741.3 L1944.0,743.8 L1944.4,746.2 L1944.8,748.7 L1945.2,751.2 L1945.6,753.6 L1946.0,756.1 L1946.4,758.6 L1946.8,761.1 L1947.2,763.5 L1947.6,766.0 L1948.0,768.5 L1948.3,770.9 L1948.7,773.4 L1949.1,775.9 L1949.5,778.4 L1949.9,780.8 L1950.3,783.3 L1950.7,785.8 L1951.1,788.2 L1951.5,790.7 L1951.9,793.2 L1952.3,795.7 L1952.6,798.1 L1953.0,800.6 L1953.4,803.1 L1953.8,805.5 L1954.2,808.0 L1954.6,810.5 L1955.0,813.0 L1955.4,815.4 L1955.8,817.9 L1956.2,820.4 L1956.6,822.8 L1957.0,825.3 L1957.3,827.8 L1957.7,830.2 L1958.1,832.7 L1958.5,835.2 L1958.9,837.7 L1959.3,840.1 L1959.7,842.6 L1960.1,845.1 L1960.5,847.5 L1960.9,850.0 L1961.3,852.5 L1961.7,855.0 L1962.1,857.4 L1962.5,859.9 L1962.9,862.4 L1963.3,864.8 L1963.7,867.3 L1964.0,869.8 L1964.4,872.2 L1964.8,874.7 L1965.2,877.2 L1965.6,879.7 L1966.0,882.1 L1966.4,884.6 L1966.8,887.1 L1967.2,889.5 L1967.6,892.0 L1968.0,894.5 L1968.4,896.9 L1968.8,899.4 L1969.2,901.9 L1969.6,904.4 L1970.0,906.8 L1970.4,909.3 L1970.8,911.8 L1971.2,914.2 L1971.6,916.7 L1972.0,919.2 L1972.4,921.6 L1972.8,924.1 L1973.3,926.6 L1973.7,929.0 L1974.1,931.5 L1974.5,934.0 L1974.9,936.4 L1975.3,938.9 L1975.7,941.4 L1976.1,943.9 L1976.5,946.3 L1976.9,948.8 L1977.3,951.3 L1977.7,953.7 L1978.1,956.2 L1978.6,958.7 L1979.0,961.1 L1979.4,963.6 L1979.8,966.1 L1980.2,968.5 L1980.6,971.0 L1981.0,973.5 L1981.4,975.9 L1981.9,978.4 L1982.3,980.9 L1982.7,983.3 L1983.1,985.8 L1983.5,988.3 L1983.9,990.7 L1984.4,993.2 L1984.8,995.7 L1985.2,998.1 L1985.6,1000.6 L1986.0,1003.1 L1986.5,1005.5 L1986.9,1008.0 L1987.3,1010.5 L1987.7,1012.9 L1988.2,1015.4 L1988.6,1017.9 L1989.0,1020.3 L1989.4,1022.8 L1989.9,1025.2 L1990.3,1027.7 L1990.7,1030.2 L1991.2,1032.6 L1991.6,1035.1 L1992.0,1037.6 L1992.5,1040.0 L1992.9,1042.5 L1993.3,1045.0 L1993.8,1047.4 L1994.2,1049.9 L1994.6,1052.4 L1995.1,1054.8 L1995.5,1057.3 L1995.9,1059.7 L1996.4,1062.2 L1996.8,1064.7 L1997.3,1067.1 L1997.7,1069.6 L1998.2,1072.1 L1998.6,1074.5 L1999.0,1077.0 L1999.5,1079.4 L1999.9,1081.9 L2000.4,1084.4 L2000.8,1086.8 L2001.3,1089.3 L2001.7,1091.7 L2002.2,1094.2 L2002.6,1096.7 L2003.1,1099.1 L2003.5,1101.6 L2004.0,1104.0 L2004.5,1106.5 L2004.9,1109.0 L2005.4,1111.4 L2005.8,1113.9 L2006.3,1116.3 L2006.8,1118.8 L2007.2,1121.3 L2007.7,1123.7 L2008.1,1126.2 L2008.6,1128.6 L2009.1,1131.1 L2009.5,1133.6 L2010.0,1136.0 L2010.5,1138.5 L2010.9,1140.9 L2011.4,1143.4 L2011.9,1145.8 L2012.4,1148.3 L2012.8,1150.7 L2013.3,1153.2 L2013.8,1155.7 L2014.3,1158.1 L2014.7,1160.6 L2015.2,1163.0 L2015.7,1165.5 L2016.2,1167.9 L2016.7,1170.4 L2017.2,1172.8 L2017.7,1175.3 L2018.1,1177.8 L2018.6,1180.2 L2019.1,1182.7 L2019.6,1185.1 L2020.1,1187.6 L2020.6,1190.0 L2021.1,1192.5 L2021.6,1194.9 L2022.1,1197.4 L2022.6,1199.8 L2023.1,1202.3 L2023.6,1204.7 L2024.1,1207.2 L2024.6,1209.6 L2025.1,1212.1 L2025.6,1214.5 L2026.1,1217.0 L2026.6,1219.4 L2027.1,1221.9 L2027.6,1224.3"/>
<path class="blu" d="M245.5,1365.9 L248.7,1365.8 L251.8,1365.5 L254.9,1365.2 L257.9,1364.8 L260.9,1364.3 L263.8,1363.7 L266.8,1363.0 L269.6,1362.2 L272.5,1361.3 L275.3,1360.3 L278.1,1359.3 L280.8,1358.2 L283.5,1357.0 L286.1,1355.7 L288.8,1354.4 L291.4,1353.0 L293.9,1351.5 L296.4,1350.0 L298.9,1348.4 L301.4,1346.7 L303.8,1345.0 L306.2,1343.3 L308.6,1341.4 L310.9,1339.6 L313.2,1337.7 L315.5,1335.7 L317.8,1333.7 L320.0,1331.7 L322.2,1329.6 L324.4,1327.5 L326.5,1325.3 L328.6,1323.1 L330.7,1320.9 L332.8,1318.7 L334.9,1316.4 L336.9,1314.2 L338.9,1311.9 L341.0,1309.6 L343.0,1307.3 L345.1,1305.1 L347.1,1302.8 L349.2,1300.6 L351.4,1298.5 L353.5,1296.3 L355.7,1294.3 L358.0,1292.2 L360.3,1290.3 L362.7,1288.4 L365.1,1286.6 L367.6,1284.9 L370.2,1283.2 L372.9,1281.7 L375.7,1280.2 L378.4,1278.9 L381.3,1277.7 L384.2,1276.6 L387.0,1275.7 L389.9,1274.9 L392.8,1274.2 L395.7,1273.7 L398.6,1273.4 L401.4,1273.2 L404.2,1273.2 L407.0,1273.3 L409.7,1273.6 L412.4,1274.1 L415.1,1274.7 L417.7,1275.5 L420.4,1276.3 L422.9,1277.4 L425.5,1278.5 L428.0,1279.8 L430.4,1281.2 L432.9,1282.7 L435.3,1284.3 L437.7,1286.0 L440.0,1287.8 L442.3,1289.7 L444.6,1291.7 L446.9,1293.8 L449.1,1295.9 L451.3,1298.1 L453.5,1300.4 L455.6,1302.7 L457.7,1305.0 L459.8,1307.4 L461.8,1309.8 L463.9,1312.2 L465.9,1314.7 L467.8,1317.2 L469.7,1319.7 L471.7,1322.1 L473.5,1324.6 L475.4,1327.1 L477.2,1329.6 L479.1,1332.1 L480.9,1334.6 L482.7,1337.1 L484.5,1339.6 L486.2,1342.1 L488.0,1344.6 L489.8,1347.1 L491.5,1349.6 L493.3,1352.0 L495.0,1354.5 L496.8,1357.0 L498.6,1359.4 L500.3,1361.8 L502.1,1364.2 L503.9,1366.6 L505.7,1369.0 L507.5,1371.3 L509.3,1373.6 L511.2,1376.0 L513.0,1378.2 L514.9,1380.5 L516.8,1382.7 L518.8,1384.9 L520.8,1387.1 L522.8,1389.3 L524.8,1391.4 L526.9,1393.5 L528.9,1395.5 L531.1,1397.5 L533.2,1399.5 L535.4,1401.5 L537.6,1403.4 L539.9,1405.3 L542.2,1407.2 L544.4,1409.0 L546.8,1410.8 L549.1,1412.5 L551.5,1414.3 L553.9,1415.9 L556.3,1417.6 L558.7,1419.2 L561.2,1420.8 L563.7,1422.4 L566.2,1423.9 L568.7,1425.4 L571.2,1426.9 L573.8,1428.3 L576.4,1429.8 L578.9,1431.2 L581.5,1432.6 L584.1,1434.0 L586.8,1435.4 L589.4,1436.8 L592.0,1438.2 L594.7,1439.5 L597.4,1441.0 L600.0,1442.4 L602.7,1443.8 L605.4,1445.2 L608.1,1446.7 L610.8,1448.1 L613.5,1449.6 L616.2,1451.1 L618.9,1452.5 L621.6,1454.0 L624.4,1455.5 L627.1,1457.0 L629.8,1458.5 L632.5,1460.0 L635.2,1461.5 L637.9,1463.1 L640.6,1464.6 L643.3,1466.1 L646.0,1467.6 L648.7,1469.1 L651.4,1470.7 L654.1,1472.2 L656.8,1473.7 L659.4,1475.2 L662.1,1476.7 L664.7,1478.2 L667.3,1479.7 L669.9,1481.2 L672.6,1482.7 L675.1,1484.2 L677.7,1485.7 L680.3,1487.2 L682.9,1488.6 L685.4,1490.1 L688.0,1491.5 L690.6,1493.0 L693.1,1494.4 L695.7,1495.8 L698.2,1497.2 L700.8,1498.6 L703.4,1500.0 L705.9,1501.3 L708.5,1502.7 L711.1,1504.0 L713.7,1505.3 L716.3,1506.6 L718.9,1507.9 L721.5,1509.2 L724.1,1510.4 L726.8,1511.6 L729.4,1512.8 L732.1,1514.0 L734.8,1515.2 L737.5,1516.3 L740.2,1517.4 L743.0,1518.5 L745.8,1519.6 L748.6,1520.6 L751.4,1521.7 L754.2,1522.6 L757.1,1523.6 L760.0,1524.6 L763.0,1525.5 L765.9,1526.4 L768.9,1527.2 L771.9,1528.1 L774.9,1528.9 L777.9,1529.7 L780.9,1530.5 L784.0,1531.4 L787.0,1532.2 L790.0,1533.0 L793.0,1533.8 L795.9,1534.7 L798.9,1535.5 L801.8,1536.4 L804.7,1537.3 L807.5,1538.2 L810.3,1539.1 L813.0,1540.1 L815.7,1541.1 L818.4,1542.1 L821.0,1543.2"/>
<path class="blu" d="M811.9,1542.5 L834.0,1541.3 L852.8,1534.7 L865.0,1528.2 L876.3,1525.3 L885.7,1515.0 L895.1,1510.3 L913.9,1507.0 L928.0,1508.9 L941.1,1508.9 L953.4,1500.9 L977.3,1495.7 L992.4,1490.1 L1014.0,1493.4 L1079.8,1500.2 L1088.2,1503.7 L1098.6,1521.6 L1107.5,1541.5 L1123.5,1541.8 L1139.5,1539.4 L1150.8,1532.9 L1160.2,1524.4 L1175.2,1521.6 L1195.9,1521.1 L1202.4,1526.3 L1209.0,1540.4 L1222.2,1542.7 L1236.3,1539.4 L1250.4,1535.7 L1264.5,1538.5 L1275.5,1544.1"/>
<path class="blu" d="M1445.1,1543.0 L1448.1,1543.3 L1451.1,1543.6 L1454.1,1543.9 L1457.1,1544.1 L1460.1,1544.3 L1463.1,1544.5 L1466.1,1544.6 L1469.1,1544.7 L1472.1,1544.7 L1475.1,1544.8 L1478.1,1544.8 L1481.1,1544.7 L1484.1,1544.7 L1487.1,1544.6 L1490.1,1544.5 L1493.1,1544.4 L1496.1,1544.2 L1499.1,1544.0 L1502.1,1543.8 L1505.1,1543.6 L1508.1,1543.4 L1511.1,1543.1 L1514.1,1542.9 L1517.1,1542.6 L1520.1,1542.3 L1523.1,1542.0 L1526.1,1541.7 L1529.1,1541.3 L1532.1,1541.0 L1535.1,1540.6 L1538.1,1540.3 L1541.1,1539.9 L1544.1,1539.5 L1547.1,1539.1 L1550.1,1538.7 L1553.1,1538.3 L1556.1,1537.9 L1559.1,1537.5 L1562.1,1537.1 L1565.1,1536.7 L1568.1,1536.3 L1571.1,1535.9 L1574.1,1535.5 L1577.1,1535.1 L1580.1,1534.7 L1583.1,1534.4 L1586.1,1534.0 L1589.1,1533.6 L1592.1,1533.3 L1595.1,1532.9 L1598.1,1532.6 L1601.1,1532.3 L1604.1,1532.0 L1607.1,1531.7 L1610.1,1531.4 L1613.1,1531.1 L1616.1,1530.8 L1619.1,1530.6 L1622.1,1530.3 L1625.1,1530.1 L1628.1,1529.9 L1631.1,1529.7 L1634.1,1529.5 L1637.1,1529.3 L1640.1,1529.1 L1643.1,1529.0 L1646.1,1528.8 L1649.1,1528.7 L1652.1,1528.6 L1655.1,1528.5 L1658.1,1528.4 L1661.1,1528.3 L1664.1,1528.2 L1667.1,1528.1 L1670.1,1528.0 L1673.1,1528.0 L1676.1,1527.9 L1679.1,1527.9 L1682.1,1527.9 L1685.1,1527.8 L1688.1,1527.8 L1691.1,1527.8 L1694.1,1527.8 L1697.1,1527.9 L1700.1,1527.9 L1703.1,1527.9 L1706.1,1528.0 L1709.1,1528.0 L1712.1,1528.1 L1715.1,1528.1 L1718.1,1528.2 L1721.1,1528.3 L1724.1,1528.4 L1727.1,1528.5 L1730.1,1528.6 L1733.1,1528.7 L1736.1,1528.8 L1739.1,1528.9 L1742.1,1529.1 L1745.1,1529.2 L1748.1,1529.4 L1751.1,1529.5 L1754.1,1529.7 L1757.1,1529.8 L1760.1,1530.0 L1763.1,1530.2 L1766.1,1530.4 L1769.1,1530.6 L1772.1,1530.7 L1775.1,1530.9 L1778.1,1531.1 L1781.1,1531.3 L1784.1,1531.5 L1787.1,1531.7 L1790.1,1531.9 L1793.2,1532.1 L1796.2,1532.3 L1799.2,1532.5 L1802.2,1532.7 L1805.2,1532.9 L1808.2,1533.1 L1811.2,1533.2 L1814.2,1533.4 L1817.2,1533.6 L1820.2,1533.8 L1823.2,1533.9 L1826.2,1534.1 L1829.2,1534.2 L1832.2,1534.4 L1835.2,1534.5 L1838.2,1534.6 L1841.2,1534.7 L1844.2,1534.8 L1847.2,1534.9 L1850.2,1535.0 L1853.2,1535.1 L1856.2,1535.2 L1859.2,1535.2 L1862.2,1535.2 L1865.2,1535.3 L1868.2,1535.3 L1871.2,1535.3 L1874.2,1535.2 L1877.2,1535.2 L1880.2,1535.2 L1883.2,1535.1 L1886.2,1535.0 L1889.2,1534.9 L1892.2,1534.8 L1895.3,1534.6 L1898.3,1534.5 L1901.3,1534.3 L1904.3,1534.1 L1907.3,1533.9 L1910.3,1533.7 L1913.3,1533.5 L1916.3,1533.2 L1919.3,1533.0 L1922.3,1532.7 L1925.3,1532.5 L1928.3,1532.2 L1931.3,1531.9 L1934.3,1531.6 L1937.3,1531.3 L1940.3,1531.0 L1943.3,1530.7 L1946.3,1530.4 L1949.3,1530.1 L1952.3,1529.8 L1955.3,1529.5 L1958.3,1529.2 L1961.3,1528.9 L1964.3,1528.7 L1967.3,1528.4 L1970.3,1528.1 L1973.3,1527.8 L1976.3,1527.6 L1979.4,1527.3 L1982.4,1527.1 L1985.4,1526.9 L1988.4,1526.7 L1991.4,1526.5 L1994.4,1526.3 L1997.4,1526.1 L2000.4,1526.0 L2003.4,1525.9 L2006.4,1525.7 L2009.4,1525.7 L2012.4,1525.6 L2015.4,1525.5 L2018.4,1525.5 L2021.4,1525.5 L2024.4,1525.5 L2027.4,1525.6"/>
<path class="blu" d="M245.5,1361.2 L276.2,1316.1"/>
<path class="blu" d="M300.7,1270.5 L302.0,1267.7 L303.3,1264.9 L304.6,1262.2 L305.9,1259.4 L307.2,1256.6 L308.4,1253.8 L309.7,1251.0 L311.0,1248.2 L312.2,1245.4 L313.5,1242.6 L314.7,1239.8 L315.9,1237.0 L317.1,1234.2 L318.3,1231.3 L319.4,1228.5 L320.6,1225.7 L321.7,1222.8 L322.9,1220.0"/>
<path class="blu" d="M339.3,1172.0 L360.4,1122.6"/>
<path class="blu" d="M376.9,1069.7 L399.2,1022.7"/>
<path class="blu" d="M423.9,976.9 L426.2,974.7 L428.5,972.5 L430.9,970.3 L433.3,968.3 L435.8,966.3 L438.5,964.6 L441.2,962.9 L444.1,961.6 L447.1,960.4 L450.2,959.5 L453.4,959.0 L456.5,958.8 L459.7,959.0 L462.8,959.5 L465.9,960.2 L469.0,961.1 L472.1,962.1"/>
<path class="blu" d="M506.2,999.2 L532.0,1046.2"/>
<path class="blu" d="M554.3,1094.4 L575.5,1142.6"/>
<path class="blu" d="M597.8,1200.0 L615.4,1242.3"/>
<path class="blu" d="M633.1,1290.5 L655.4,1339.8"/>
<path class="blu" d="M677.7,1386.8 L705.9,1432.7"/>
<path class="blu" d="M740.0,1474.6 L787.9,1499.5"/>
<path class="blu" d="M811.9,1534.7 L834.9,1535.2 L854.2,1514.0"/>
<path class="blu" d="M881.4,1474.6 L892.7,1421.0"/>
<path class="blu" d="M916.0,1410.7 L927.2,1360.3 L932.5,1364.5"/>
<path class="blu" d="M971.0,1334.3 L985.2,1280.5"/>
<path class="blu" d="M997.1,1230.4 L1004.2,1198.0 L1022.3,1185.7"/>
<path class="blu" d="M1065.6,1200.1 L1082.5,1212.1 L1086.7,1246.7"/>
<path class="blu" d="M1094.6,1296.6 L1100.4,1351.7"/>
<path class="blu" d="M1105.6,1402.2 L1113.8,1457.0"/>
<path class="blu" d="M1127.3,1506.1 L1140.0,1524.2 L1157.3,1493.9"/>
<path class="blu" d="M1182.0,1452.0 L1199.6,1455.8 L1210.4,1495.3"/>
<path class="blu" d="M1447.0,1469.4 L1491.9,1440.3"/>
<path class="blu" d="M1532.7,1410.9 L1535.2,1409.1 L1537.7,1407.4 L1540.2,1405.6 L1542.7,1403.8 L1545.2,1402.1 L1547.6,1400.3 L1550.1,1398.5 L1552.5,1396.6 L1555.0,1394.8 L1557.4,1393.0 L1559.8,1391.1 L1562.2,1389.2 L1564.6,1387.3 L1566.9,1385.3 L1569.3,1383.4 L1571.6,1381.4 L1574.0,1379.5 L1576.3,1377.5"/>
<path class="blu" d="M1615.0,1344.5 L1662.1,1315.2"/>
<path class="blu" d="M1707.9,1297.5 L1711.0,1297.4 L1714.1,1297.2 L1717.2,1297.1 L1720.3,1297.1 L1723.4,1297.1 L1726.5,1297.3 L1729.5,1297.6 L1732.6,1298.1 L1735.6,1298.7 L1738.5,1299.4 L1741.5,1300.2 L1744.5,1301.2 L1747.4,1302.2 L1750.3,1303.3 L1753.2,1304.5 L1756.1,1305.6 L1759.0,1306.9 L1761.9,1308.1"/>
<path class="blu" d="M1800.7,1341.0 L1837.1,1383.3"/>
<path class="blu" d="M1864.2,1425.6 L1893.5,1472.6"/>
<path class="blu" d="M1865.7,1425.4 L1894.5,1471.5"/>
<path class="blu" d="M1924.4,1514.1 L1940.6,1523.3 L1968.2,1502.6"/>
<path class="blu" d="M2005.1,1466.9 L2027.0,1451.9"/>
</g>
<g class="tick" text-anchor="middle">
<text x="243.6" y="1644">1</text>
<text x="484.0" y="1644">2</text>
<text x="724.3" y="1644">3</text>
<text x="964.7" y="1644">4</text>
<text x="1205.0" y="1644">5</text>
<text x="1445.3" y="1644">6</text>
<text x="1685.7" y="1644">7</text>
<text x="1926.1" y="1644">8</text>
<text x="2166.4" y="1644">9</text>
</g>
<g class="tick" text-anchor="end">
<text x="220" y="1577.0">0</text>
<text x="220" y="1276.7">0.2</text>
<text x="220" y="976.3">0.4</text>
<text x="220" y="676.0">0.6</text>
<text x="220" y="375.6">0.8</text>
<text x="220" y="75.3">1</text>
</g>
<text class="lab" text-anchor="middle" x="1207" y="1747">Frequency (MHz)</text>
<text class="lab" text-anchor="middle" letter-spacing="0.45" transform="translate(87.3,797) rotate(-90)">FFT Amplitude</text>
<text class="ann" x="385" y="899">2.25 MHz</text>
<text class="ann" x="923" y="899">5.00 MHz</text>
<text class="ann" x="1636" y="900">7.50 MHz</text>
</svg>
</body>
</html>
